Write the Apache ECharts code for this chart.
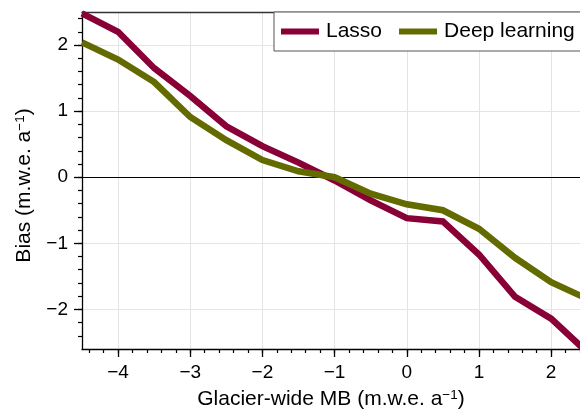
<!DOCTYPE html>
<html>
<head>
<meta charset="utf-8">
<script src="https://cdn.jsdelivr.net/npm/echarts@6/dist/echarts.min.js"></script>
<style>
html,body{margin:0;padding:0;background:#fff;}
#chart{width:580px;height:415px;}
</style>
</head>
<body>
<div id="chart"></div>
<script>
// Data
const mbValues = [-4.5, -4.0, -3.5, -3.0, -2.5, -2.0, -1.5, -1.0, -0.5, 0.0, 0.5, 1.0, 1.5, 2.0, 2.5];
const lassoBias = [2.48, 2.2, 1.65, 1.23, 0.77, 0.47, 0.22, -0.05, -0.35, -0.62, -0.67, -1.17, -1.81, -2.14, -2.65];
const deepBias  = [2.04, 1.78, 1.44, 0.91, 0.56, 0.26, 0.09, 0.0, -0.25, -0.41, -0.5, -0.78, -1.22, -1.59, -1.84];
const seriesNames = ['Lasso', 'Deep learning'];
const xMajorTicks = [-4, -3, -2, -1, 0, 1, 2];
const yMajorTicks = [-2, -1, 0, 1, 2];
const xMinorTicks = [-4.4,-4.2,-4.0,-3.8,-3.6,-3.4,-3.2,-3.0,-2.8,-2.6,-2.4,-2.2,-2.0,-1.8,-1.6,-1.4,-1.2,-1.0,-0.8,-0.6,-0.4,-0.2,0,0.2,0.4,0.6,0.8,1.0,1.2,1.4,1.6,1.8,2.0,2.2,2.4];
const yMinorTicks = [-2.4,-2.2,-2.0,-1.8,-1.6,-1.4,-1.2,-1.0,-0.8,-0.6,-0.4,-0.2,0,0.2,0.4,0.6,0.8,1.0,1.2,1.4,1.6,1.8,2.0,2.2,2.4];

const FONT = "'Liberation Sans', Arial, Helvetica, sans-serif";
const fmt = v => (v < 0 ? '\u2212' + Math.abs(v) : String(v));
const pairs = ys => mbValues.map((x, i) => [x, ys[i]]);

const X_MIN = -4.5, X_MAX = 2.4, Y_MIN = -2.6, Y_MAX = 2.5;
const supRich = {
  base: {fontSize: 21, fontFamily: FONT, color: '#000', lineHeight: 23},
  sup: {fontSize: 13.5, fontFamily: FONT, color: '#000', lineHeight: 12, verticalAlign: 'top'}
};

const chart = echarts.init(document.getElementById('chart'), null, {renderer: 'canvas'});
chart.setOption({
  animation: false,
  backgroundColor: '#fff',
  textStyle: {fontFamily: FONT},
  grid: {left: 82, right: 0, top: 12, bottom: 66, containLabel: false},
  legend: {
    data: seriesNames,
    left: 274, top: 12,
    width: 400,
    orient: 'horizontal',
    icon: 'rect',
    itemWidth: 38, itemHeight: 6,
    itemGap: 17,
    padding: [9, 30, 9, 7],
    backgroundColor: '#fff',
    borderColor: '#555', borderWidth: 1,
    textStyle: {fontSize: 21, fontFamily: FONT, color: '#000', padding: [0, 0, 0, 2]}
  },
  xAxis: [
    {
      type: 'value', min: X_MIN, max: X_MAX, position: 'bottom',
      name: '{base|Glacier-wide MB (m.w.e. a}{sup|\u22121}{base|)}',
      nameLocation: 'middle', nameGap: 39,
      nameTextStyle: {rich: supRich},
      axisLine: {show: true, onZero: false, lineStyle: {color: '#000', width: 1.3}},
      axisTick: {show: true, customValues: xMajorTicks, length: 8, lineStyle: {color: '#000', width: 1.3}},
      axisLabel: {show: true, customValues: xMajorTicks, formatter: fmt, fontSize: 19, color: '#000', margin: 14, fontFamily: FONT},
      splitLine: {show: true, lineStyle: {color: '#e4e4e4', width: 1}}
    },
    {
      type: 'value', min: X_MIN, max: X_MAX, position: 'bottom',
      axisLine: {show: false, onZero: false},
      axisTick: {show: true, customValues: xMinorTicks, length: 4, lineStyle: {color: '#000', width: 1.2}},
      axisLabel: {show: false}, splitLine: {show: false}
    },
    {
      type: 'value', min: X_MIN, max: X_MAX, position: 'top',
      axisLine: {show: true, onZero: false, lineStyle: {color: '#333', width: 1.3}},
      axisTick: {show: false}, axisLabel: {show: false}, splitLine: {show: false}
    },
    {
      type: 'value', min: X_MIN, max: X_MAX, position: 'bottom',
      axisLine: {show: true, onZero: true, onZeroAxisIndex: 0, lineStyle: {color: '#000', width: 1.2}},
      axisTick: {show: false}, axisLabel: {show: false}, splitLine: {show: false}
    }
  ],
  yAxis: [
    {
      type: 'value', min: Y_MIN, max: Y_MAX, position: 'left',
      name: '{base|Bias (m.w.e. a}{sup|\u22121}{base|)}',
      nameLocation: 'middle', nameGap: 46,
      nameTextStyle: {rich: supRich, padding: [0, 10, 0, 0]},
      axisLine: {show: true, onZero: false, lineStyle: {color: '#000', width: 1.3}},
      axisTick: {show: true, customValues: yMajorTicks, length: 8, lineStyle: {color: '#000', width: 1.3}},
      axisLabel: {show: true, customValues: yMajorTicks, formatter: fmt, fontSize: 19, color: '#000', margin: 14, fontFamily: FONT},
      splitLine: {show: true, lineStyle: {color: '#e4e4e4', width: 1}}
    },
    {
      type: 'value', min: Y_MIN, max: Y_MAX, position: 'left',
      axisLine: {show: false, onZero: false},
      axisTick: {show: true, customValues: yMinorTicks, length: 4, lineStyle: {color: '#000', width: 1.2}},
      axisLabel: {show: false}, splitLine: {show: false}
    }
  ],
  series: [
    {
      name: seriesNames[0], type: 'line', xAxisIndex: 0, yAxisIndex: 0,
      data: pairs(lassoBias), showSymbol: false, symbol: 'none', clip: true,
      color: '#880036',
      lineStyle: {color: '#880036', width: 6.5, join: 'miter'}
    },
    {
      name: seriesNames[1], type: 'line', xAxisIndex: 0, yAxisIndex: 0,
      data: pairs(deepBias), showSymbol: false, symbol: 'none', clip: true,
      color: '#636b00',
      lineStyle: {color: '#636b00', width: 6.5, join: 'miter'}
    }
  ]
});
</script>
</body>
</html>
